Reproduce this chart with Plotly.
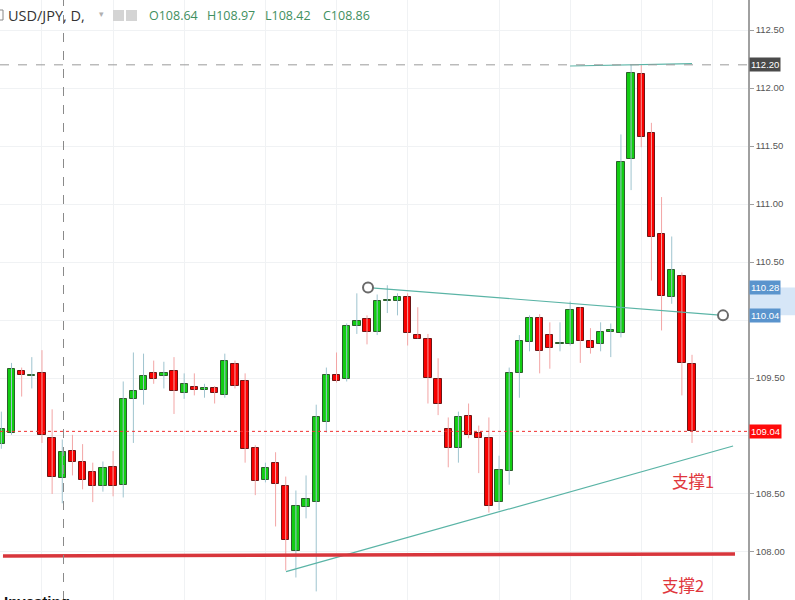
import plotly.graph_objects as go

# ---------------- data ----------------
opens = [108.93, 109.03, 109.56, 109.52, 109.54, 108.98, 108.64, 108.87, 108.78, 108.69,
         108.57, 108.73, 108.58, 109.32, 109.40, 109.54, 109.52, 109.56, 109.37, 109.42,
         109.40, 109.41, 109.35, 109.62, 109.47, 108.90, 108.62, 108.77, 108.57, 108.01,
         108.39, 108.43, 109.12, 109.53, 109.49, 109.95, 110.01, 109.90, 110.16, 110.16,
         110.20, 109.87, 109.84, 109.49, 109.06, 108.90, 109.17, 109.03, 108.98, 108.43,
         108.70, 109.54, 109.81, 110.02, 109.87, 109.79, 109.79, 110.10, 109.82, 109.79,
         109.90, 109.89, 111.39, 112.12, 111.61, 110.74, 110.20, 110.38, 109.62]
highs = [109.21, 109.63, 109.59, 109.68, 109.74, 109.23, 108.97, 109.01, 108.93, 108.77,
         108.78, 108.87, 109.47, 109.72, 109.71, 109.65, 109.64, 109.68, 109.54, 109.54,
         109.45, 109.43, 109.71, 109.65, 109.54, 108.92, 108.77, 108.86, 108.65, 108.53,
         108.66, 109.27, 109.59, 109.72, 109.97, 110.23, 110.04, 110.22, 110.30, 110.23,
         110.23, 110.11, 109.88, 109.67, 109.16, 109.21, 109.28, 109.09, 109.16, 108.83,
         109.59, 109.87, 110.04, 110.05, 109.98, 109.98, 110.16, 110.11, 109.93, 109.98,
         109.97, 111.60, 112.20, 112.20, 111.70, 111.06, 110.72, 110.41, 109.70]
lows = [108.89, 109.01, 109.34, 109.41, 108.94, 108.50, 108.42, 108.66, 108.54, 108.43,
        108.52, 108.48, 108.47, 108.94, 109.27, 109.45, 109.41, 109.19, 109.32, 109.35,
        109.33, 109.28, 109.33, 109.41, 108.77, 108.49, 108.60, 108.22, 107.84, 107.78,
        108.29, 107.66, 109.03, 109.46, 109.47, 109.88, 109.79, 109.87, 110.06, 110.04,
        109.78, 109.84, 109.28, 109.18, 108.73, 108.77, 108.98, 108.68, 108.34, 108.36,
        108.58, 109.33, 109.73, 109.54, 109.58, 109.73, 109.78, 109.63, 109.71, 109.73,
        109.68, 109.85, 111.12, 111.49, 110.34, 109.91, 110.14, 109.35, 108.94]
closes = [109.06, 109.58, 109.53, 109.53, 109.01, 108.65, 108.86, 108.78, 108.62, 108.57,
          108.72, 108.57, 109.32, 109.39, 109.52, 109.49, 109.54, 109.39, 109.45, 109.40,
          109.40, 109.37, 109.65, 109.43, 108.89, 108.61, 108.72, 108.59, 108.10, 108.40,
          108.46, 109.16, 109.53, 109.47, 109.95, 109.99, 109.90, 110.16, 110.17, 110.20,
          109.89, 109.84, 109.50, 109.28, 108.90, 109.16, 109.01, 108.98, 108.40, 108.71,
          109.54, 109.82, 110.02, 109.73, 109.76, 109.79, 110.09, 109.82, 109.76, 109.90,
          109.90, 111.36, 112.13, 111.58, 110.72, 110.21, 110.43, 109.63, 109.04]

y_ticks = [108.00, 108.50, 109.00, 109.50, 110.00, 110.50, 111.00, 111.50, 112.00, 112.50]
y_tick_text = ["108.00", "108.50", "", "109.50", "", "110.50", "111.00", "111.50",
               "112.00", "112.50"]
x_grid = [4, 11, 18, 26, 33, 40, 49, 56, 63, 70]

# drawn lines (index, price)
top_line_x = [55.99, 68.0]
top_line_y = [112.19, 112.21]
resist_x = [36.1, 71.05]
resist_y = [110.28, 110.04]
support1_x = [28.03, 72.04]
support1_y = [107.83, 108.914]
support2_x = [0.16, 72.23]
support2_y = [107.966, 107.983]
cross_x = 6.12
cross_price = 112.20
last_price = 109.04
header_ohlc = ["O108.64", "H108.97", "L108.42", "C108.86"]

# ---------------- figure ----------------
n = len(opens)
xs = list(range(n))
W_PLOT = 748.0
H_PLOT = 600.0

def px(x):
    return x / W_PLOT

def py(y):
    return 1 - y / H_PLOT

up_wx, up_wy, dn_wx, dn_wy = [], [], [], []
up_x, up_base, up_h, dn_x, dn_base, dn_h = [], [], [], [], [], []
for i in xs:
    o, h, l, c = opens[i], highs[i], lows[i], closes[i]
    if c >= o:
        up_wx += [i, i, None]; up_wy += [l, h, None]
        up_x.append(i); up_base.append(o); up_h.append(max(c - o, 0.01))
    else:
        dn_wx += [i, i, None]; dn_wy += [l, h, None]
        dn_x.append(i); dn_base.append(c); dn_h.append(max(o - c, 0.01))

fig = go.Figure()
fig.add_trace(go.Scatter(x=up_wx, y=up_wy, mode="lines",
                         line=dict(color="#9fc4cf", width=1), hoverinfo="skip"))
fig.add_trace(go.Scatter(x=dn_wx, y=dn_wy, mode="lines",
                         line=dict(color="#f3a5a5", width=1), hoverinfo="skip"))
fig.add_trace(go.Bar(x=up_x, y=up_h, base=up_base, width=0.72,
                     marker=dict(color="#12cc12", line=dict(color="#2c5e2c", width=1))))
fig.add_trace(go.Bar(x=dn_x, y=dn_h, base=dn_base, width=0.72,
                     marker=dict(color="#f80000", line=dict(color="#6e1616", width=1))))

# trend lines
teal = "#5ab4a6"
fig.add_trace(go.Scatter(x=top_line_x, y=top_line_y, mode="lines",
                         line=dict(color=teal, width=1.2)))
fig.add_trace(go.Scatter(x=resist_x, y=resist_y, mode="lines",
                         line=dict(color=teal, width=1.2)))
fig.add_trace(go.Scatter(x=support1_x, y=support1_y, mode="lines",
                         line=dict(color=teal, width=1.2)))
fig.add_trace(go.Scatter(x=support2_x, y=support2_y, mode="lines",
                         line=dict(color="#d8363c", width=3.5)))
fig.add_trace(go.Scatter(x=resist_x, y=resist_y, mode="markers",
                         marker=dict(symbol="circle", size=10, color="white",
                                     line=dict(color="#6a6a6a", width=2))))

shapes = [
    # crosshair
    dict(type="line", xref="x", yref="paper", x0=cross_x, x1=cross_x, y0=0, y1=1,
         line=dict(color="#8a8a8a", width=1, dash="dash")),
    dict(type="line", xref="paper", yref="y", x0=0, x1=1, y0=cross_price, y1=cross_price,
         line=dict(color="#9a9a9a", width=1, dash="dash")),
    # last price dotted line
    dict(type="line", xref="paper", yref="y", x0=0, x1=1, y0=last_price, y1=last_price,
         line=dict(color="#f03030", width=1, dash="dot")),
    # axis band
    dict(type="rect", xref="paper", yref="y", x0=1, x1=795 / W_PLOT,
         y0=resist_y[1], y1=resist_y[0], fillcolor="#d6e6f7", line=dict(width=0),
         layer="below"),
    # header icons
    dict(type="rect", xref="paper", yref="paper", x0=px(-7), x1=px(3), y0=py(20), y1=py(10),
         line=dict(color="#888", width=1), fillcolor="white"),
    dict(type="rect", xref="paper", yref="paper", x0=px(113), x1=px(124), y0=py(21), y1=py(10),
         line=dict(width=0), fillcolor="#d4d4d4"),
    dict(type="rect", xref="paper", yref="paper", x0=px(126), x1=px(137), y0=py(21), y1=py(10),
         line=dict(width=0), fillcolor="#d4d4d4"),
]

annotations = []

def axis_label(price, bg, txt=None):
    annotations.append(dict(xref="paper", yref="y", x=1, y=price, xanchor="left",
                            yanchor="middle", xshift=1, showarrow=False,
                            text=txt or f"{price:.2f}", bgcolor=bg, borderpad=1,
                            font=dict(color="white", size=9.5, family="Liberation Sans")))

axis_label(cross_price, "#4a4a4a")
axis_label(resist_y[0], "#5a94cd")
axis_label(resist_y[1], "#5a94cd")
axis_label(last_price, "#ff0a0a")

# header texts
annotations.append(dict(xref="paper", yref="paper", x=px(6), y=py(15), xanchor="left",
                        yanchor="middle", showarrow=False, text="USD/JPY, D,",
                        font=dict(color="#333", size=14.5, family="Open Sans")))
annotations.append(dict(xref="paper", yref="paper", x=px(97), y=py(14), xanchor="left",
                        yanchor="middle", showarrow=False, text="▾",
                        font=dict(color="#b0b0b0", size=9, family="DejaVu Sans")))
for k, (t, xp) in enumerate(zip(header_ohlc, [147, 205, 263, 321])):
    annotations.append(dict(xref="paper", yref="paper", x=px(xp), y=py(15), xanchor="left",
                            yanchor="middle", showarrow=False, text=t,
                            font=dict(color="#3f8f60", size=12.5, family="Open Sans")))

# support labels
annotations.append(dict(xref="x", yref="y", x=68.1, y=108.612, showarrow=False,
                        text="支撑1", font=dict(color="#e0363c", size=16.5,
                                               family="Noto Sans CJK SC")))
annotations.append(dict(xref="x", yref="y", x=67.1, y=107.716, showarrow=False,
                        text="支撑2", font=dict(color="#e0363c", size=16.5,
                                               family="Noto Sans CJK SC")))
# watermark (mostly cut off, as in the reference)
annotations.append(dict(xref="paper", yref="paper", x=px(2), y=0, xanchor="left",
                        yanchor="top", yshift=9, showarrow=False, text="<b>Investing</b>",
                        font=dict(color="#111", size=15, family="Liberation Sans")))

fig.update_layout(
    width=795, height=600,
    margin=dict(l=0, r=47, t=0, b=0),
    paper_bgcolor="white", plot_bgcolor="white",
    showlegend=False, barmode="overlay", bargap=0,
    shapes=shapes, annotations=annotations,
    xaxis=dict(range=[-0.132, 73.51], tickvals=x_grid, showticklabels=False,
               showgrid=True, gridcolor="#f0f2f4", gridwidth=1, zeroline=False,
               ticks="", showline=False, fixedrange=True),
    yaxis=dict(range=[107.586, 112.759], side="right", tickvals=y_ticks,
               ticktext=y_tick_text, showgrid=True,
               gridcolor="#f0f2f4", gridwidth=1, zeroline=False, showline=True,
               linecolor="#a0a0a0", linewidth=1.5, ticks="outside", ticklen=4,
               tickcolor="#a0a0a0",
               tickfont=dict(color="#555", size=9.5, family="Liberation Sans"),
               fixedrange=True),
)

fig.write_html(
    "out.html",
    config={"displayModeBar": False},
    post_script="document.body.style.margin='0';document.body.style.overflow='hidden';",
)
